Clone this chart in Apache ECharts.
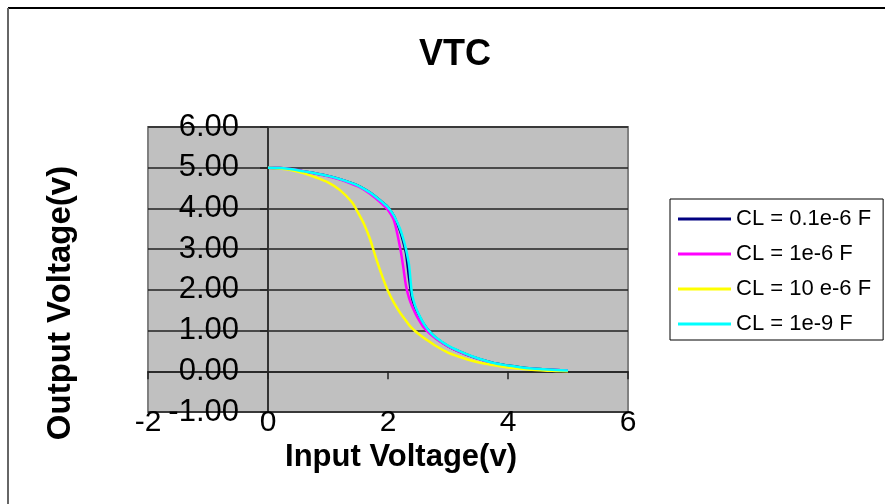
<!DOCTYPE html>
<html>
<head>
<meta charset="utf-8">
<script src="https://cdn.jsdelivr.net/npm/echarts@6/dist/echarts.min.js"></script>
<style>
html,body{margin:0;padding:0;background:#fff;}
#chart{width:885px;height:504px;}
</style>
</head>
<body>
<div id="chart"></div>
<script>
// Input voltage samples (V)
var vin = [0, 0.2, 0.4, 0.6, 0.8, 1.0, 1.2, 1.4, 1.5, 1.6, 1.7, 1.8, 1.9, 2.0, 2.1, 2.2, 2.25, 2.3, 2.35, 2.4, 2.45, 2.5, 2.6, 2.7, 2.8, 3.0, 3.2, 3.4, 3.6, 3.8, 4.0, 4.2, 4.4, 4.6, 4.8, 5.0];
// Output voltage per load capacitance (V)
var vout_0_1u = [5.00, 4.99, 4.96, 4.91, 4.86, 4.80, 4.72, 4.62, 4.56, 4.48, 4.39, 4.28, 4.16, 4.03, 3.81, 3.45, 3.20, 2.90, 2.30, 1.80, 1.58, 1.42, 1.15, 0.96, 0.82, 0.62, 0.48, 0.36, 0.27, 0.19, 0.14, 0.10, 0.07, 0.05, 0.03, 0.02];
var vout_1u   = [5.00, 4.99, 4.96, 4.91, 4.85, 4.79, 4.71, 4.60, 4.54, 4.46, 4.36, 4.24, 4.11, 3.96, 3.70, 3.05, 2.60, 2.10, 1.80, 1.60, 1.44, 1.30, 1.07, 0.92, 0.80, 0.61, 0.47, 0.36, 0.26, 0.18, 0.13, 0.09, 0.06, 0.04, 0.03, 0.02];
var vout_10u  = [5.00, 4.98, 4.94, 4.86, 4.76, 4.64, 4.45, 4.15, 3.90, 3.62, 3.25, 2.78, 2.35, 1.97, 1.68, 1.44, 1.34, 1.24, 1.14, 1.06, 0.99, 0.93, 0.82, 0.72, 0.62, 0.46, 0.35, 0.26, 0.19, 0.14, 0.09, 0.06, 0.04, 0.02, 0.01, 0.00];
var vout_1n   = [5.00, 4.99, 4.96, 4.91, 4.86, 4.80, 4.72, 4.62, 4.56, 4.48, 4.39, 4.28, 4.16, 4.03, 3.82, 3.50, 3.28, 3.00, 2.62, 1.90, 1.62, 1.44, 1.16, 0.97, 0.83, 0.63, 0.49, 0.37, 0.27, 0.19, 0.14, 0.10, 0.07, 0.05, 0.03, 0.02];

var seriesNames = ['CL = 0.1e-6 F', 'CL = 1e-6 F', 'CL = 10 e-6 F', 'CL = 1e-9 F'];
var seriesColors = ['#000080', '#FF00FF', '#FFFF00', '#00FFFF'];
var seriesValues = [vout_0_1u, vout_1u, vout_10u, vout_1n];

var FONT = 'Liberation Sans, Arial, Helvetica, sans-serif';

function pairs(xs, ys) {
  return xs.map(function (x, i) { return [x, ys[i]]; });
}

var chart = echarts.init(document.getElementById('chart'), null, {renderer: 'canvas'});

var option = {
  animation: false,
  backgroundColor: '#ffffff',
  title: {
    text: 'VTC',
    left: 419,
    top: 37,
    padding: 0,
    textStyle: {fontFamily: FONT, fontSize: 36, fontWeight: 'bold', color: '#000'}
  },
  grid: {
    left: 148, top: 127, width: 480, height: 285,
    show: true,
    backgroundColor: '#C0C0C0',
    borderColor: '#808080',
    borderWidth: 2,
    containLabel: false
  },
  legend: {
    orient: 'vertical',
    left: 670,
    top: 199,
    icon: 'rect',
    itemWidth: 53,
    itemHeight: 3,
    itemGap: 13,
    padding: [9, 12, 5, 8],
    backgroundColor: '#ffffff',
    borderColor: '#000000',
    borderWidth: 1,
    textStyle: {fontFamily: FONT, fontSize: 22, color: '#000'},
    data: seriesNames
  },
  xAxis: {
    type: 'value',
    min: -2, max: 6, interval: 2,
    axisLine: {show: true, onZero: true, lineStyle: {color: '#222', width: 1.5}},
    axisTick: {show: true, inside: false, length: 8, lineStyle: {color: '#222', width: 1.5}},
    splitLine: {show: false},
    axisLabel: {fontFamily: FONT, fontSize: 30, color: '#000', margin: -4}
  },
  yAxis: {
    type: 'value',
    min: -1, max: 6, interval: 1,
    axisLine: {show: true, onZero: true, lineStyle: {color: '#333', width: 2}},
    axisTick: {show: true, inside: false, length: 8, lineStyle: {color: '#222', width: 1.5}},
    splitLine: {show: true, lineStyle: {color: '#222', width: 1.5}},
    axisLabel: {
      fontFamily: FONT, fontSize: 31, color: '#000', margin: -91,
      formatter: function (v) { return v.toFixed(2); }
    }
  },
  graphic: [
    {type: 'line', shape: {x1: 8, y1: 8, x2: 885, y2: 8}, style: {stroke: '#000', lineWidth: 2}, silent: true},
    {type: 'line', shape: {x1: 8, y1: 8, x2: 8, y2: 504}, style: {stroke: '#666', lineWidth: 2}, silent: true},
    {type: 'text', x: 401, y: 457, silent: true,
      style: {text: 'Input Voltage(v)', font: 'bold 31px ' + FONT, fill: '#000', align: 'center', verticalAlign: 'middle'}},
    {type: 'text', x: 61, y: 303, rotation: Math.PI / 2, silent: true,
      style: {text: 'Output Voltage(v)', font: 'bold 33px ' + FONT, fill: '#000', align: 'center', verticalAlign: 'middle'}}
  ],
  series: seriesNames.map(function (name, i) {
    return {
      name: name,
      type: 'line',
      data: pairs(vin, seriesValues[i]),
      smooth: 0.3,
      showSymbol: false,
      symbol: 'none',
      lineStyle: {color: seriesColors[i], width: 2.5},
      itemStyle: {color: seriesColors[i]},
      z: 2 + i
    };
  })
};

chart.setOption(option);
</script>
</body>
</html>
